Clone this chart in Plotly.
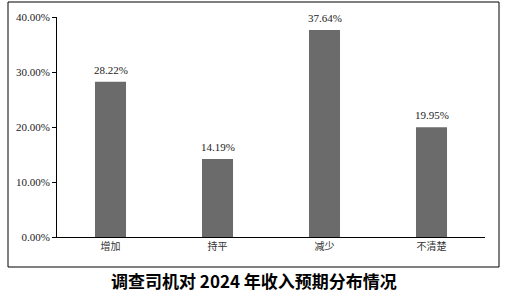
import plotly.graph_objects as go

categories = ["增加", "持平", "减少", "不清楚"]
values = [28.22, 14.19, 37.64, 19.95]
tick_vals = [0, 10, 20, 30, 40]
tick_text = ["0.00%", "10.00%", "20.00%", "30.00%", "40.00%"]
title_text = "调查司机对 2024 年收入预期分布情况"

fig = go.Figure()
fig.add_trace(go.Bar(
    x=categories, y=values,
    marker=dict(color="#6b6b6b", line=dict(width=0)),
    width=0.29,
))
for c, v in zip(categories, values):
    fig.add_annotation(x=c, y=v, text=f"{v:.2f}%", showarrow=False,
                       yanchor="middle", yshift=12,
                       font=dict(family="Liberation Serif", size=11, color="#222"))

L, R, T, B = 57, 23, 17, 56
fig.update_layout(
    width=508, height=293,
    margin=dict(l=L, r=R, t=T, b=B),
    paper_bgcolor="white", plot_bgcolor="white",
    showlegend=False,
    xaxis=dict(showline=True, linecolor="black", linewidth=1, ticks="",
               tickfont=dict(family="Noto Sans CJK SC", size=10, color="#333"),
               showgrid=False),
    yaxis=dict(range=[0, 40], tickvals=tick_vals, ticktext=tick_text,
               showline=True, linecolor="black", linewidth=1,
               ticks="outside", ticklen=4, tickcolor="black",
               showgrid=False, zeroline=False,
               tickfont=dict(family="Liberation Serif", size=11, color="#222")),
)

pw = 508 - L - R
ph = 293 - T - B
def px(x): return (x - L) / pw
def py(y): return (293 - B - y) / ph

fig.add_shape(type="rect", xref="paper", yref="paper",
              x0=px(8), x1=px(499), y0=py(267), y1=py(2),
              line=dict(color="black", width=1))
fig.add_annotation(text="<b>" + title_text + "</b>", xref="paper", yref="paper",
                   x=px(254), y=py(280), yanchor="middle", showarrow=False,
                   font=dict(family="Noto Sans CJK SC", size=17, color="black"))

fig.write_html("out.html")
